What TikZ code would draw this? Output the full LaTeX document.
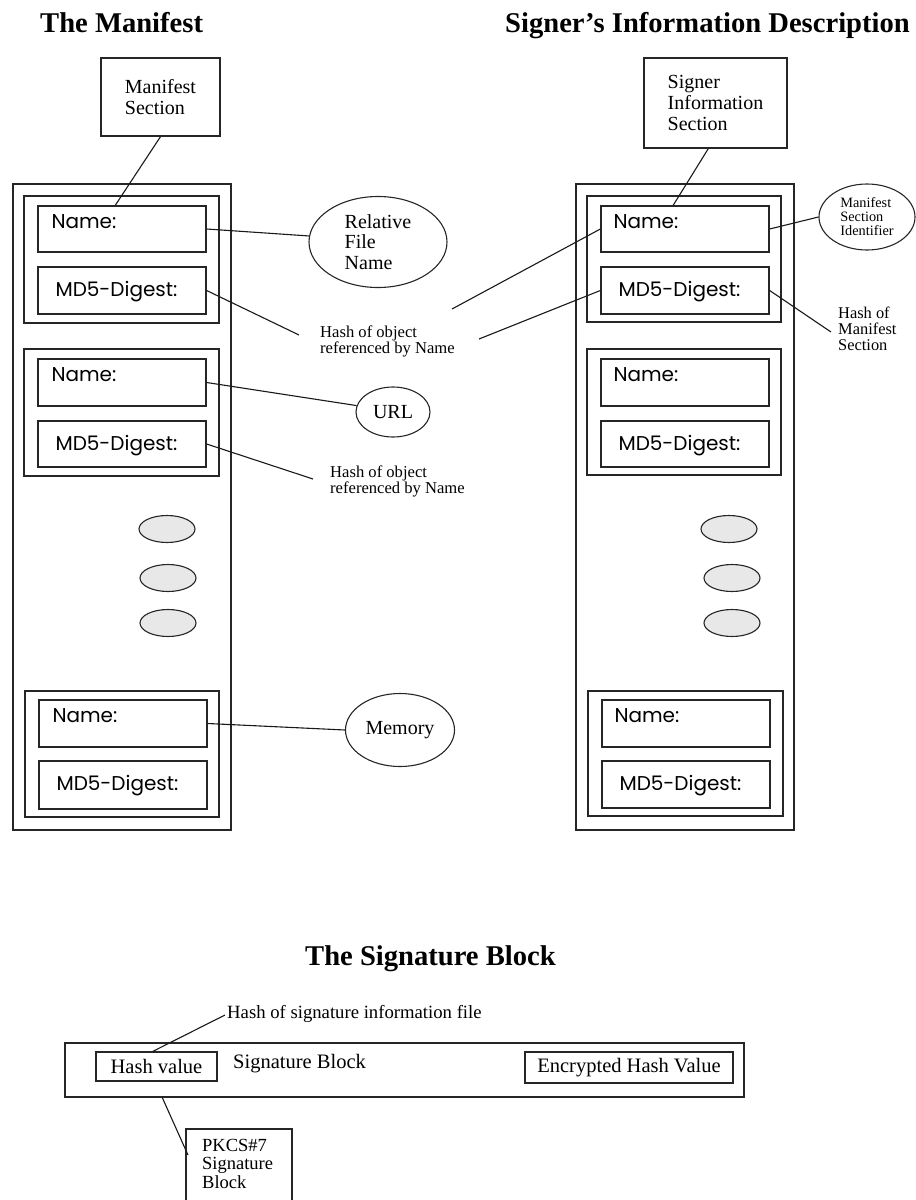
\documentclass[tikz,border=0pt]{standalone}
\usepackage{fontspec}
\setmainfont{Liberation Serif}
\newfontfamily\gothicfont{Poppins}
\usetikzlibrary{fit,shapes.geometric,calc}

\tikzset{
  frame/.style={draw=black!85, line width=1.3pt, inner sep=0pt},
  link/.style={draw=black!90, line width=1.1pt},
  oval/.style={draw=black!85, line width=1.1pt, ellipse, inner sep=0pt},
  dot/.style={oval, fill=gray!18, minimum width=56pt, minimum height=27pt},
  title/.style={font=\fontsize{28.6}{30}\selectfont\bfseries, anchor=base west, inner sep=0pt},
  field/.style={font=\gothicfont\fontsize{20}{22}\selectfont, anchor=base west, inner sep=0pt},
  boxtext/.style={font=\fontsize{20}{20.8}\selectfont, align=left},
  % multi-line notes are placed by the baseline of their last line
  note/.style={font=\fontsize{16.6}{16}\selectfont, align=left, anchor=base west, inner sep=0pt},
  sigtext/.style={font=\fontsize{20.5}{21}\selectfont, inner sep=0pt},
}

\begin{document}
\begin{tikzpicture}[x=1pt,y=-1pt]
\useasboundingbox (0,0) rectangle (916,1200);
\clip (0,0) rectangle (916,1200);

% ---------- titles ----------
\node[title] (tman) at (40,32) {The Manifest};
\node[title] (tsig) at (505,32) {Signer’s Information Description};
\node[title] (tblk) at (305,965) {The Signature Block};

% ---------- the manifest ----------
\node[frame, fit={(101,58)(220,136)}] (ms) {};
\node[boxtext] at (ms.center) {Manifest\\Section};

\node[frame, fit={(13,184)(231,830)}] (outerL) {};

\node[frame, fit={(24,196)(219,323)}] (gL1) {};
\node[frame, fit={(38,206)(206,252)}] (nL1) {};
\node[frame, fit={(38,267)(206,314)}] (dL1) {};
\node[frame, fit={(24,349)(219,476)}] (gL2) {};
\node[frame, fit={(38,359)(206,406)}] (nL2) {};
\node[frame, fit={(38,421)(206,467)}] (dL2) {};
\node[frame, fit={(25,691)(219,817)}] (gL3) {};
\node[frame, fit={(39,700)(207,747)}] (nL3) {};
\node[frame, fit={(39,761)(207,809)}] (dL3) {};

\foreach \b in {nL1,nL2,nL3}
  \node[field] at ($(\b.north west)+(14,23)$) {Name:};
\foreach \b in {dL1,dL2,dL3}
  \node[field] at ($(\b.north west)+(18,30)$) {MD5-Digest:};

\node[dot] (eL1) at (167,529) {};
\node[dot] (eL2) at (168,578) {};
\node[dot] (eL3) at (168,623) {};

\node[oval, minimum width=138pt, minimum height=91pt, boxtext] (rfn) at (378,242) {Relative\\File\\Name};
\node[oval, minimum width=74pt, minimum height=50pt, boxtext] (url) at (393,412) {URL};
\node[oval, minimum width=109pt, minimum height=73pt, boxtext] (mem) at (400,730) {Memory};

\node[note] (h1) at (320,353) {Hash of object\\referenced by Name};
\node[note] (h2) at (330,493) {Hash of object\\referenced by Name};
\coordinate (h1end) at (299,335);
\coordinate (h2end) at (313,479);

\draw[link] (ms.south) -- ($(nL1.north west)!0.46!(nL1.north east)$);
\draw[link] (nL1.east) -- (rfn.175);
\draw[link] (dL1.east) -- (h1end);
\draw[link] (nL2.east) -- (url.170);
\draw[link] (dL2.east) -- (h2end);
\draw[link] (nL3.east) -- (mem.west);

% ---------- signer's information ----------
\node[frame, fit={(644,58)(787,148)}] (sis) {};
\node[boxtext] at (sis.center) {Signer\\Information\\Section};

\node[frame, fit={(576,184)(794,830)}] (outerR) {};

\node[frame, fit={(587,196)(781,322)}] (gR1) {};
\node[frame, fit={(601,206)(769,252)}] (nR1) {};
\node[frame, fit={(601,267)(769,314)}] (dR1) {};
\node[frame, fit={(587,349)(781,475)}] (gR2) {};
\node[frame, fit={(601,359)(769,406)}] (nR2) {};
\node[frame, fit={(601,421)(769,467)}] (dR2) {};
\node[frame, fit={(588,691)(783,816)}] (gR3) {};
\node[frame, fit={(602,700)(770,747)}] (nR3) {};
\node[frame, fit={(602,761)(770,808)}] (dR3) {};

\foreach \b in {nR1,nR2,nR3}
  \node[field] at ($(\b.north west)+(13,23)$) {Name:};
\foreach \b in {dR1,dR2,dR3}
  \node[field] at ($(\b.north west)+(18,30)$) {MD5-Digest:};

\node[dot] (eR1) at (729,529) {};
\node[dot] (eR2) at (732,578) {};
\node[dot] (eR3) at (732,623) {};

\node[oval, minimum width=96pt, minimum height=66pt, font=\fontsize{14.3}{14}\selectfont, align=left] (msi) at (867,217) {Manifest\\Section\\Identifier};
\node[note, font=\fontsize{16.4}{16}\selectfont] (hms) at (838,350) {Hash of\\Manifest\\Section};
\coordinate (hmsend) at (831,332);
\coordinate (x1end) at (452,309);
\coordinate (x2end) at (479,339);

\draw[link] ($(sis.south west)!0.45!(sis.south east)$) -- ($(nR1.north west)!0.43!(nR1.north east)$);
\draw[link] (nR1.east) -- (msi.west);
\draw[link] (nR1.west) -- (x1end);
\draw[link] (dR1.west) -- (x2end);
\draw[link] (dR1.east) -- (hmsend);

% ---------- the signature block ----------
\node[frame, fit={(65,1043)(744,1097)}] (sb) {};
\node[frame, fit={(96,1052)(217,1081)}, sigtext] (hv) {};
\node[sigtext] at (hv.center) {Hash value};
\node[sigtext, anchor=base west] (sbl) at (233,1068) {Signature Block};
\node[frame, fit={(525,1052)(733,1083)}] (ehv) {};
\node[sigtext] at (ehv.center) {Encrypted Hash Value};

\node[font=\fontsize{18.7}{19}\selectfont, anchor=base west, inner sep=0pt] (hsif) at (227,1018) {Hash of signature information file};
\coordinate (hsifend) at (225,1015);
\draw[link] ($(hv.north west)!0.47!(hv.north east)$) -- (hsifend);

\node[frame, fit={(186,1129)(292,1215)}] (pkcs) {};
\node[font=\fontsize{18.5}{18.5}\selectfont, align=left, anchor=base west, inner sep=0pt] (pkcst) at (202,1188) {PKCS\#7\\Signature\\Block};
\coordinate (pkin) at (188,1155);
\draw[link] ($(sb.south west)!0.144!(sb.south east)$) -- (pkin);

\end{tikzpicture}
\end{document}
